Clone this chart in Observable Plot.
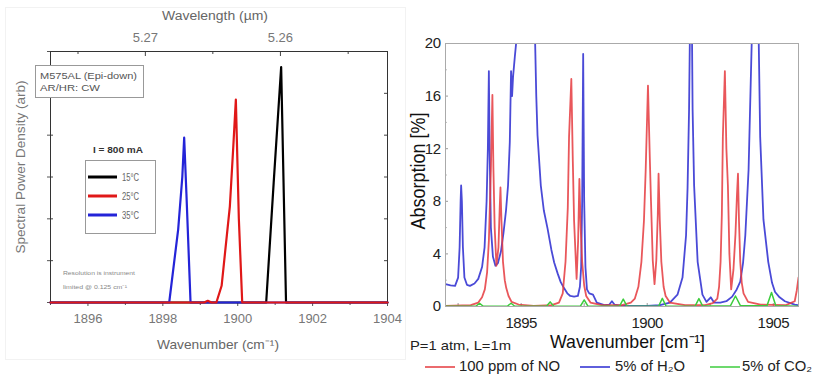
<!DOCTYPE html>
<html><head><meta charset="utf-8">
<script src="https://cdn.jsdelivr.net/npm/d3@7"></script>
<script src="https://cdn.jsdelivr.net/npm/@observablehq/plot@0.6"></script>
<style>
body{margin:0;background:#fff;}
#wrap{position:relative;width:813px;height:379px;overflow:hidden;background:#fff;}
#wrap svg{position:absolute;top:0;}
</style></head><body><div id="wrap"></div>
<script>
// ---------- Left panel: laser spectra ----------
const t15X = [1895, 1900.76, 1900.96, 1901.16, 1901.29, 1904];
const t15Y = [0, 0, 2.86, 5.63, 0, 0];
const t25X = [1895, 1899.1, 1899.2, 1899.3, 1899.43, 1899.57, 1899.79, 1899.88, 1899.95, 1900.03, 1900.12, 1904];
const t25Y = [0, 0, 0.04, 0, 0, 0.4, 2.3, 3.7, 4.85, 2.0, 0, 0];
const t35X = [1895, 1898.17, 1898.41, 1898.52, 1898.57, 1898.63, 1898.74, 1904];
const t35Y = [0, 0, 1.75, 3.0, 3.94, 2.6, 0, 0];
const leftMajor = [1896, 1898, 1900, 1902, 1904];
const leftMinor = [1895, 1897, 1899, 1901, 1903];
const wlMajor = [5.27, 5.26];
const wlMinor = [5.275, 5.265, 5.255];
const leftYTicks = [0, 1, 2, 3, 4, 5, 6];
const tempLabels = ["15°C", "25°C", "35°C"];

// ---------- Right panel: absorption spectra ----------
const h2oX = [1892.0,1892.2,1892.38,1892.5,1892.56,1892.6,1892.62,1892.65,1892.69,1892.75,1892.85,1892.97,1893.15,1893.3,1893.45,1893.55,1893.63,1893.68,1893.72,1893.75,1893.8,1893.88,1893.98,1894.08,1894.2,1894.3,1894.4,1894.48,1894.55,1894.6,1894.64,1894.68,1894.75,1894.85,1895.0,1895.2,1895.4,1895.55,1895.6,1895.65,1895.78,1895.9,1896.05,1896.2,1896.31,1896.45,1896.57,1896.7,1896.83,1896.95,1897.1,1897.25,1897.33,1897.38,1897.42,1897.46,1897.5,1897.55,1897.61,1897.7,1897.85,1898.0,1898.3,1898.5,1898.6,1898.7,1899.0,1899.5,1900.0,1900.5,1900.9,1901.2,1901.4,1901.54,1901.6,1901.66,1901.7,1901.73,1901.77,1901.8,1901.86,1902.0,1902.19,1902.35,1902.52,1902.65,1902.9,1903.14,1903.37,1903.55,1903.69,1903.8,1903.89,1904.02,1904.15,1904.3,1904.42,1904.48,1904.61,1904.8,1904.95,1905.07,1905.25,1905.46,1905.85,1906.0];
const h2oY = [1.7,1.6,1.57,2.2,4.5,8.0,9.2,8.0,4.5,2.2,1.65,1.57,1.75,2.1,3.0,4.5,8.0,12.0,17.9,12.0,6.0,3.8,3.1,3.3,4.2,5.6,7.3,9.2,12.5,17.9,16.0,17.5,19.0,21,30,40,30,20.5,16,13.0,9.2,7.3,5.9,4.3,3.35,2.5,1.85,1.4,1.0,0.8,0.75,0.8,1.5,3.0,8.0,19.2,8.0,3.0,1.3,1.0,0.9,0.3,0.1,0.15,0.4,0.15,0.05,0.05,0.05,0.1,0.3,0.9,2.2,5.4,9.0,15,22,30,22,15,9.2,3.4,0.9,0.35,0.7,0.3,0.3,0.4,0.75,1.3,1.9,3.3,5.4,10.4,20.5,35,20.5,12.9,6.6,3.4,1.8,1.1,0.7,0.4,0.15,0.1];
const noX = [1892.0,1893.0,1893.3,1893.45,1893.56,1893.65,1893.72,1893.8,1893.86,1893.9,1893.95,1894.02,1894.1,1894.15,1894.18,1894.22,1894.28,1894.35,1894.41,1894.5,1894.62,1894.9,1895.5,1896.2,1896.5,1896.65,1896.76,1896.85,1896.9,1896.99,1897.05,1897.1,1897.2,1897.26,1897.31,1897.36,1897.42,1897.5,1897.58,1897.75,1898.2,1899.0,1899.35,1899.51,1899.65,1899.77,1899.87,1899.94,1900.03,1900.1,1900.15,1900.22,1900.29,1900.36,1900.42,1900.45,1900.5,1900.56,1900.65,1900.73,1900.9,1901.5,1902.3,1902.6,1902.78,1902.85,1902.91,1902.96,1903.0,1903.08,1903.14,1903.2,1903.26,1903.33,1903.42,1903.5,1903.56,1903.6,1903.64,1903.69,1903.75,1903.82,1904.0,1904.5,1905.5,1905.85,1905.93,1906.0];
const noY = [0.05,0.1,0.3,0.7,1.3,2.6,5.0,10.4,16.1,10.5,6.0,3.1,4.5,7.5,9.05,6.5,3.4,2.0,1.4,0.8,0.35,0.15,0.05,0.1,0.3,1.0,3.4,7.5,12.9,17.3,11.0,6.5,2.1,5.0,9.7,6.0,3.4,1.6,0.8,0.3,0.1,0.1,0.3,0.6,1.5,3.4,6.5,10.4,16.8,11.5,8.0,3.5,1.7,3.5,7.0,10.1,6.5,3.4,1.5,0.8,0.3,0.1,0.1,0.25,0.6,1.5,3.4,7.0,12.9,17.9,12.0,9.2,4.0,1.3,2.8,5.5,8.5,10.1,6.5,3.4,1.8,1.0,0.35,0.15,0.1,0.4,1.2,2.2];
const co2X = [1892.0,1893.2,1893.35,1893.5,1894.45,1894.6,1894.75,1896.0,1896.15,1896.3,1897.35,1897.5,1897.65,1898.9,1899.05,1899.2,1900.45,1900.6,1900.75,1901.9,1902.05,1902.2,1903.3,1903.5,1903.7,1904.75,1904.93,1905.1,1906.0];
const co2Y = [0.02,0.02,0.25,0.02,0.02,0.25,0.02,0.02,0.35,0.02,0.02,0.5,0.02,0.02,0.56,0.02,0.02,0.62,0.02,0.03,0.6,0.03,0.05,0.8,0.05,0.05,1.07,0.05,0.02];
const rightXTicks = [1895, 1900, 1905];
const rightXMinor = [1892.5, 1895, 1897.5, 1900, 1902.5, 1905];
const rightYTicks = [0, 4, 8, 12, 16, 20];
const rightYMinor = [2, 6, 10, 14, 18];
const gasLabels = ["100 ppm of NO", "5% of H₂O", "5% of CO₂"];

const zip = (xs, ys) => xs.map((x, i) => ({x, y: ys[i]}));
const LEFTF = "'Liberation Sans', Arial, sans-serif";
const RF = "'Liberation Sans Narrow', 'Arial Narrow', 'Liberation Sans', sans-serif";
const wrap = document.getElementById("wrap");

// ---- left plot ----
const LW = 410, LH = 379, LML = 50, LMR = 23, LMT = 51, LMB = 77;
const LIW = LW - LML - LMR, LIH = LH - LMT - LMB;
const left = Plot.plot({
  width: LW, height: LH, marginLeft: LML, marginRight: LMR, marginTop: LMT, marginBottom: LMB,
  style: {fontFamily: LEFTF, fontSize: "13px", color: "#555", background: "transparent"},
  x: {domain: [1895, 1904]},
  y: {domain: [0, 6]},
  marks: [
    Plot.axisX({ticks: leftMajor, tickSize: 4, tickPadding: 7, tickFormat: d => String(d), label: null, fill: "#777"}),
    Plot.axisX({ticks: leftMinor, tickSize: 3, tickFormat: () => "", label: null}),
    Plot.axisX({anchor: "top", ticks: wlMajor.map(w => 1e4 / w), tickSize: 0, tickPadding: 10, tickFormat: d => (1e4 / d).toFixed(2), label: null, fill: "#777"}),
    Plot.tickX(wlMajor.map(w => 1e4 / w), {x: d => d, insetBottom: LIH - 5, stroke: "#444"}),
    Plot.tickX(wlMinor.map(w => 1e4 / w), {x: d => d, insetBottom: LIH - 3, stroke: "#444"}),
    Plot.axisY({ticks: leftYTicks, tickSize: 3, tickFormat: () => "", label: null}),
    Plot.tickY(leftYTicks, {y: d => d, insetRight: LIW - 3, stroke: "#444"}),
    Plot.tickY(leftYTicks, {y: d => d, insetLeft: LIW - 3, stroke: "#444"}),
    Plot.frame({stroke: "#333"}),
    Plot.line(zip(t15X, t15Y), {x: "x", y: "y", stroke: "#000", strokeWidth: 2.2}),
    Plot.line(zip(t35X, t35Y), {x: "x", y: "y", stroke: "#2424d8", strokeWidth: 2.2}),
    Plot.line(zip(t25X, t25Y), {x: "x", y: "y", stroke: "#e01818", strokeWidth: 2.2})
  ]
});
left.style.left = "0px";
wrap.appendChild(left);

// ---- right plot ----
const RW = 413, RH = 335, RML = 45, RMR = 15, RMT = 43, RMB = 29;
const RIW = RW - RML - RMR, RIH = RH - RMT - RMB;
const right = Plot.plot({
  width: RW, height: RH, marginLeft: RML, marginRight: RMR, marginTop: RMT, marginBottom: RMB,
  style: {fontFamily: RF, fontSize: "15px", color: "#222", background: "transparent", letterSpacing: "-0.5px"},
  x: {domain: [1892, 1906]},
  y: {domain: [0, 20]},
  marks: [
    Plot.axisX({ticks: rightXTicks, tickSize: 0, tickPadding: 11, tickFormat: d => String(d), label: null}),
    Plot.axisY({ticks: rightYTicks, tickSize: 0, tickPadding: 5, tickFormat: d => String(d), label: null}),
    Plot.tickX(rightXMinor, {x: d => d, insetTop: RIH - 3, stroke: "#999"}),
    Plot.tickY(rightYTicks, {y: d => d, insetRight: RIW - 3, stroke: "#999"}),
    Plot.tickY(rightYMinor, {y: d => d, insetRight: RIW - 2, stroke: "#bbb"}),
    Plot.line(zip(h2oX, h2oY), {x: "x", y: "y", stroke: "#2a2ad0", strokeWidth: 1.8, strokeOpacity: 0.85, clip: true}),
    Plot.line(zip(noX, noY), {x: "x", y: "y", stroke: "#e53a3e", strokeWidth: 1.8, strokeOpacity: 0.85, clip: true}),
    Plot.line(zip(co2X, co2Y), {x: "x", y: "y", stroke: "#3ccc3c", strokeWidth: 1.5, clip: true}),
    Plot.frame({stroke: "#aaa"})
  ]
});
right.style.left = "400px";
wrap.appendChild(right);

// ---- overlay text, legends ----
const ov = d3.select(wrap).append("svg").attr("width", 813).attr("height", 379)
  .style("left", "0px").style("pointer-events", "none");
function label(x, y, s, {size = 12, fill = "#666", anchor = "start", len = null, weight = "normal", family = LEFTF, rotate = 0} = {}) {
  const t = ov.append("text")
    .attr("transform", `translate(${x},${y})` + (rotate ? ` rotate(${rotate})` : ""))
    .attr("font-size", size).attr("fill", fill).attr("text-anchor", anchor)
    .attr("font-family", family).attr("font-weight", weight).text(s);
  if (len) t.attr("textLength", len).attr("lengthAdjust", "spacingAndGlyphs");
  return t;
}
function seg(x1, x2, y, color, w) {
  ov.append("line").attr("x1", x1).attr("x2", x2).attr("y1", y).attr("y2", y)
    .attr("stroke", color).attr("stroke-width", w);
}
function box(x, y, w, h, stroke) {
  ov.append("rect").attr("x", x).attr("y", y).attr("width", w).attr("height", h)
    .attr("fill", "none").attr("stroke", stroke);
}

// left annotations
box(5.5, 7.5, 400, 352, "#f2f2f2");
label(215, 20, "Wavelength (µm)", {size: 12.5, fill: "#666", anchor: "middle", len: 106});
label(25, 167, "Spectral Power Density (arb)", {size: 12.5, fill: "#777", anchor: "middle", len: 173, rotate: -90});
label(218, 349, "Wavenumber (cm⁻¹)", {size: 13.5, fill: "#666", anchor: "middle", len: 122});
ov.append("rect").attr("x", 35.5).attr("y", 65.5).attr("width", 108).attr("height", 32).attr("fill", "#fff").attr("stroke", "#999");
label(40, 79, "M575AL (Epi-down)", {size: 9.5, fill: "#555", len: 97});
label(40, 91, "AR/HR: CW", {size: 9.5, fill: "#555", len: 60});
label(118, 153, "I = 800 mA", {size: 9, weight: "bold", fill: "#333", anchor: "middle", len: 50});
box(85.5, 160.5, 70, 73, "#999");
const tcols = ["#000", "#e01818", "#2424d8"];
tempLabels.forEach((t, i) => {
  seg(88, 117, 177 + i * 19, tcols[i], 3);
  label(122, 181 + i * 19, t, {size: 10, fill: "#666", len: 17});
});
label(63, 275, "Resolution is instrument", {size: 6, fill: "#888", len: 72});
label(63, 289, "limited @ 0.125 cm⁻¹", {size: 6, fill: "#888", len: 64});

// right annotations
label(425, 171, "Absorption [%]", {size: 20, fill: "#111", anchor: "middle", len: 117, rotate: -90, family: RF});
label(550, 348, "Wavenumber [cm⁻¹]", {size: 19, fill: "#111", len: 155, family: RF});
label(410, 350, "P=1 atm, L=1m", {size: 13, fill: "#222", len: 101, family: RF});
const gcols = ["#e53a3e", "#2a2ad0", "#3ccc3c"];
const gx = [425, 580, 710], gtx = [459, 615, 742], glen = [101, 70, 70];
gasLabels.forEach((g, i) => {
  seg(gx[i], gx[i] + 30, 367, gcols[i], 1.5);
  label(gtx[i], 371, g, {size: 14, fill: "#222", len: glen[i], family: RF});
});
</script>
</body></html>
